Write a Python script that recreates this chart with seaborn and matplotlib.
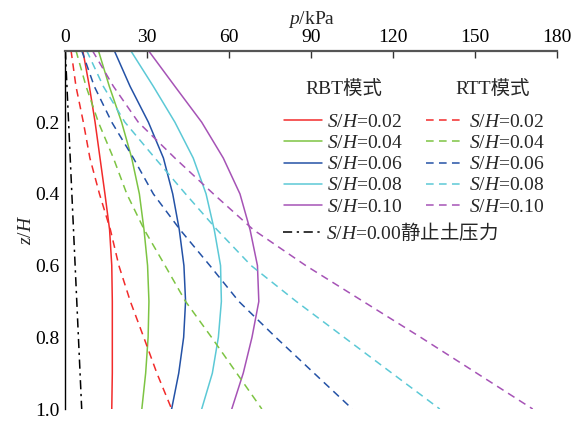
import numpy as np
import pandas as pd
import matplotlib
matplotlib.use("Agg")
import matplotlib.pyplot as plt
import seaborn as sns

# ---------------- data ----------------
z = [0.0, 0.1, 0.2, 0.3, 0.4, 0.5, 0.6, 0.7, 0.8, 0.9, 1.0]

rbt_002 = [6.4, 8.8, 10.9, 12.7, 14.5, 16.2, 17.0, 17.2, 17.2, 17.2, 17.0]
rbt_004 = [12.1, 16.1, 20.6, 24.3, 27.1, 28.8, 30.1, 30.6, 30.3, 29.4, 28.0]
rbt_006 = [17.9, 23.7, 30.4, 35.9, 39.3, 41.7, 43.4, 44.0, 43.3, 41.5, 38.9]
rbt_008 = [23.9, 32.2, 40.1, 46.8, 51.5, 54.5, 56.8, 57.1, 56.0, 53.8, 49.9]
rbt_010 = [30.4, 40.1, 49.9, 57.8, 63.9, 67.6, 70.3, 70.8, 68.3, 65.1, 60.9]

rtt_002 = [2.1, 3.9, 6.6, 9.0, 12.5, 16.5, 19.6, 23.8, 28.7, 33.5, 38.9]
rtt_004 = [3.9, 7.6, 12.1, 17.6, 22.5, 28.9, 36.5, 44.0, 53.5, 62.7, 71.9]
rtt_006 = [6.0, 10.6, 17.0, 24.9, 32.2, 42.0, 52.9, 63.5, 77.0, 91.0, 105.0]
rtt_008 = [7.8, 13.9, 21.8, 32.8, 44.0, 55.5, 68.0, 84.5, 102.0, 119.5, 137.0]
rtt_010 = [9.9, 17.6, 26.7, 40.1, 54.2, 68.8, 88.0, 109.0, 130.0, 150.5, 171.0]

static_z = [0.0, 1.0]
static_p = [0.0, 6.0]

ratios = ["0.02", "0.04", "0.06", "0.08", "0.10"]
colors = ["#F22B2B", "#7DC443", "#2452A6", "#5CC9D6", "#A653B6"]
x_ticks = [0, 30, 60, 90, 120, 150, 180]
y_ticks = [0.2, 0.4, 0.6, 0.8, 1.0]
y_ticklabels = ["0.2", "0.4", "0.6", "0.8", "1.0"]

rbt = [rbt_002, rbt_004, rbt_006, rbt_008, rbt_010]
rtt = [rtt_002, rtt_004, rtt_006, rtt_008, rtt_010]

# ---------------- style ----------------
sns.set_style("white")
plt.rcParams["font.family"] = ["Liberation Serif", "Noto Sans CJK SC"]
plt.rcParams["mathtext.fontset"] = "custom"
plt.rcParams["mathtext.rm"] = "Liberation Serif"
plt.rcParams["mathtext.it"] = "Liberation Serif:italic"
plt.rcParams["mathtext.sf"] = "Noto Sans CJK SC"
FS = 14
plt.rcParams["font.size"] = FS

fig = plt.figure(figsize=(5.71, 4.21), dpi=100)
W, H = 571, 421
left_px, right_px, top_px, bot_px = 65.3, 557.3, 50.5, 409.0
ax = fig.add_axes([left_px / W, 1 - bot_px / H, (right_px - left_px) / W, (bot_px - top_px) / H])

solid_handles = []
dash_handles = []
for vals, c in zip(rbt, colors):
    df = pd.DataFrame({"p": vals, "z": z})
    sns.lineplot(data=df, x="p", y="z", sort=False, estimator=None, color=c,
                 lw=1.1, ax=ax)
    solid_handles.append(ax.lines[-1])
for vals, c in zip(rtt, colors):
    df = pd.DataFrame({"p": vals, "z": z})
    sns.lineplot(data=df, x="p", y="z", sort=False, estimator=None, color=c,
                 lw=1.1, linestyle=(0, (5, 3.5)), ax=ax)
    dash_handles.append(ax.lines[-1])
df_s = pd.DataFrame({"p": static_p, "z": static_z})
sns.lineplot(data=df_s, x="p", y="z", sort=False, estimator=None, color="black",
             lw=1.1, linestyle=(0, (6, 3, 1.5, 3)), ax=ax)
static_handle = ax.lines[-1]

ax.set_xlim(0, 180)
ax.set_ylim(1.0, 0.0)
ax.xaxis.tick_top()
ax.xaxis.set_label_position("top")
ax.set_xticks(x_ticks)
ax.set_xticklabels([str(v) for v in x_ticks])
ax.set_yticks(y_ticks)
ax.set_yticklabels(y_ticklabels)
ax.tick_params(axis="x", direction="in", length=5, width=1.0, pad=3,
               labelsize=FS, colors="#333333", labelcolor="black")
ax.tick_params(axis="y", direction="in", length=5, width=1.0, pad=4,
               labelsize=FS, colors="black")
ax.set_xlabel(r"$p$/kPa", fontsize=FS, labelpad=4)
ax.set_ylabel(r"$z$/$H$", fontsize=FS, labelpad=0)

for s in ["right", "bottom"]:
    ax.spines[s].set_visible(False)
ax.spines["top"].set_color("#555555")
ax.spines["top"].set_linewidth(1.6)
ax.spines["left"].set_color("black")
ax.spines["left"].set_linewidth(1.0)

def to_ax(px, py):
    return ((px - left_px) / (right_px - left_px), (bot_px - py) / (bot_px - top_px))

labels = [r"$S$/$H$=" + r for r in ratios]
leg1 = ax.legend(solid_handles + dash_handles, labels + labels, ncol=2,
                 loc="upper left", bbox_to_anchor=to_ax(284, 113.5),
                 frameon=False, borderpad=0, borderaxespad=0,
                 handlelength=1.95, handletextpad=0.26, columnspacing=1.2,
                 labelspacing=0.18, fontsize=FS)
ax.add_artist(leg1)
leg2 = ax.legend([static_handle], [r"$S$/$H$=0.00$\mathsf{静止土压力}$"],
                 loc="upper left", bbox_to_anchor=to_ax(283, 220.5),
                 frameon=False, borderpad=0, borderaxespad=0,
                 handlelength=1.95, handletextpad=0.26, fontsize=FS)

fig.text(305 / W, 1 - 90 / H, "RBT模式", fontsize=FS, va="center", ha="left")
fig.text(455 / W, 1 - 90 / H, "RTT模式", fontsize=FS, va="center", ha="left")

fig.savefig("out.png", dpi=100)
